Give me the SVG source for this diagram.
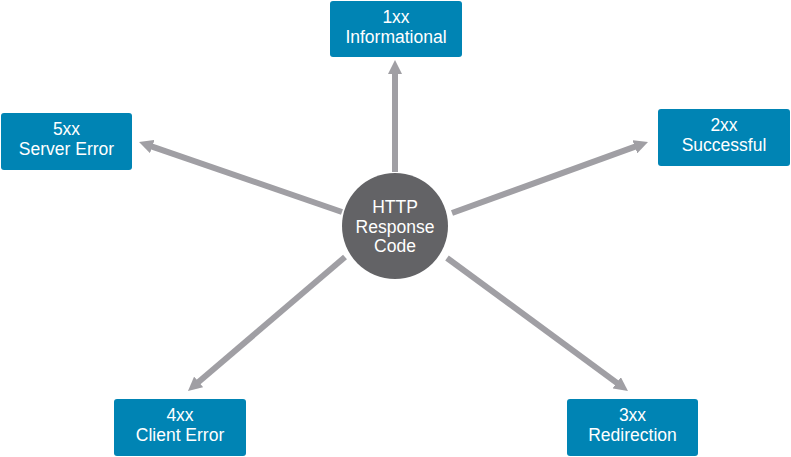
<svg xmlns="http://www.w3.org/2000/svg" width="791" height="457" viewBox="0 0 791 457">
<style>
.box{fill:#0084b4;}
.t{font-family:"Liberation Sans",Arial,sans-serif;font-size:17.5px;fill:#ffffff;text-anchor:middle;}
.c{stroke:#a09fa4;stroke-width:6;fill:none;marker-end:url(#ah);}
</style>
<defs>
<marker id="ah" markerUnits="userSpaceOnUse" viewBox="0 0 14 14" markerWidth="14" markerHeight="14" refX="4" refY="7" orient="auto">
<path d="M0,0 L14,7 L0,14 z" fill="#a09fa4"/>
</marker>
</defs>
<rect width="791" height="457" fill="#ffffff"/>
<g id="connectors">
<line class="c" x1="395" y1="172" x2="395" y2="70"/>
<line class="c" x1="452" y1="213" x2="638.6" y2="145.4"/>
<line class="c" x1="342" y1="212" x2="148.5" y2="145.3"/>
<line class="c" x1="447" y1="258" x2="619.9" y2="385.1"/>
<line class="c" x1="345" y1="257" x2="195.6" y2="384.5"/>
</g>
<g id="center">
<circle cx="395" cy="226" r="53" fill="#636366"/>
<text class="t" x="395" y="213">HTTP</text>
<text class="t" x="395" y="233">Response</text>
<text class="t" x="395" y="252">Code</text>
</g>
<g id="n1xx">
<rect class="box" x="330" y="1" width="132" height="56" rx="3"/>
<text class="t" x="396" y="23">1xx</text>
<text class="t" x="396" y="43">Informational</text>
</g>
<g id="n2xx">
<rect class="box" x="658" y="109" width="132" height="57" rx="3"/>
<text class="t" x="724" y="131">2xx</text>
<text class="t" x="724" y="151">Successful</text>
</g>
<g id="n5xx">
<rect class="box" x="1" y="113" width="131" height="57" rx="3"/>
<text class="t" x="66.5" y="135">5xx</text>
<text class="t" x="66.5" y="155">Server Error</text>
</g>
<g id="n4xx">
<rect class="box" x="114" y="399" width="132" height="57" rx="3"/>
<text class="t" x="180" y="421">4xx</text>
<text class="t" x="180" y="441">Client Error</text>
</g>
<g id="n3xx">
<rect class="box" x="567" y="399" width="131" height="57" rx="3"/>
<text class="t" x="632.5" y="421">3xx</text>
<text class="t" x="632.5" y="441">Redirection</text>
</g>
</svg>
